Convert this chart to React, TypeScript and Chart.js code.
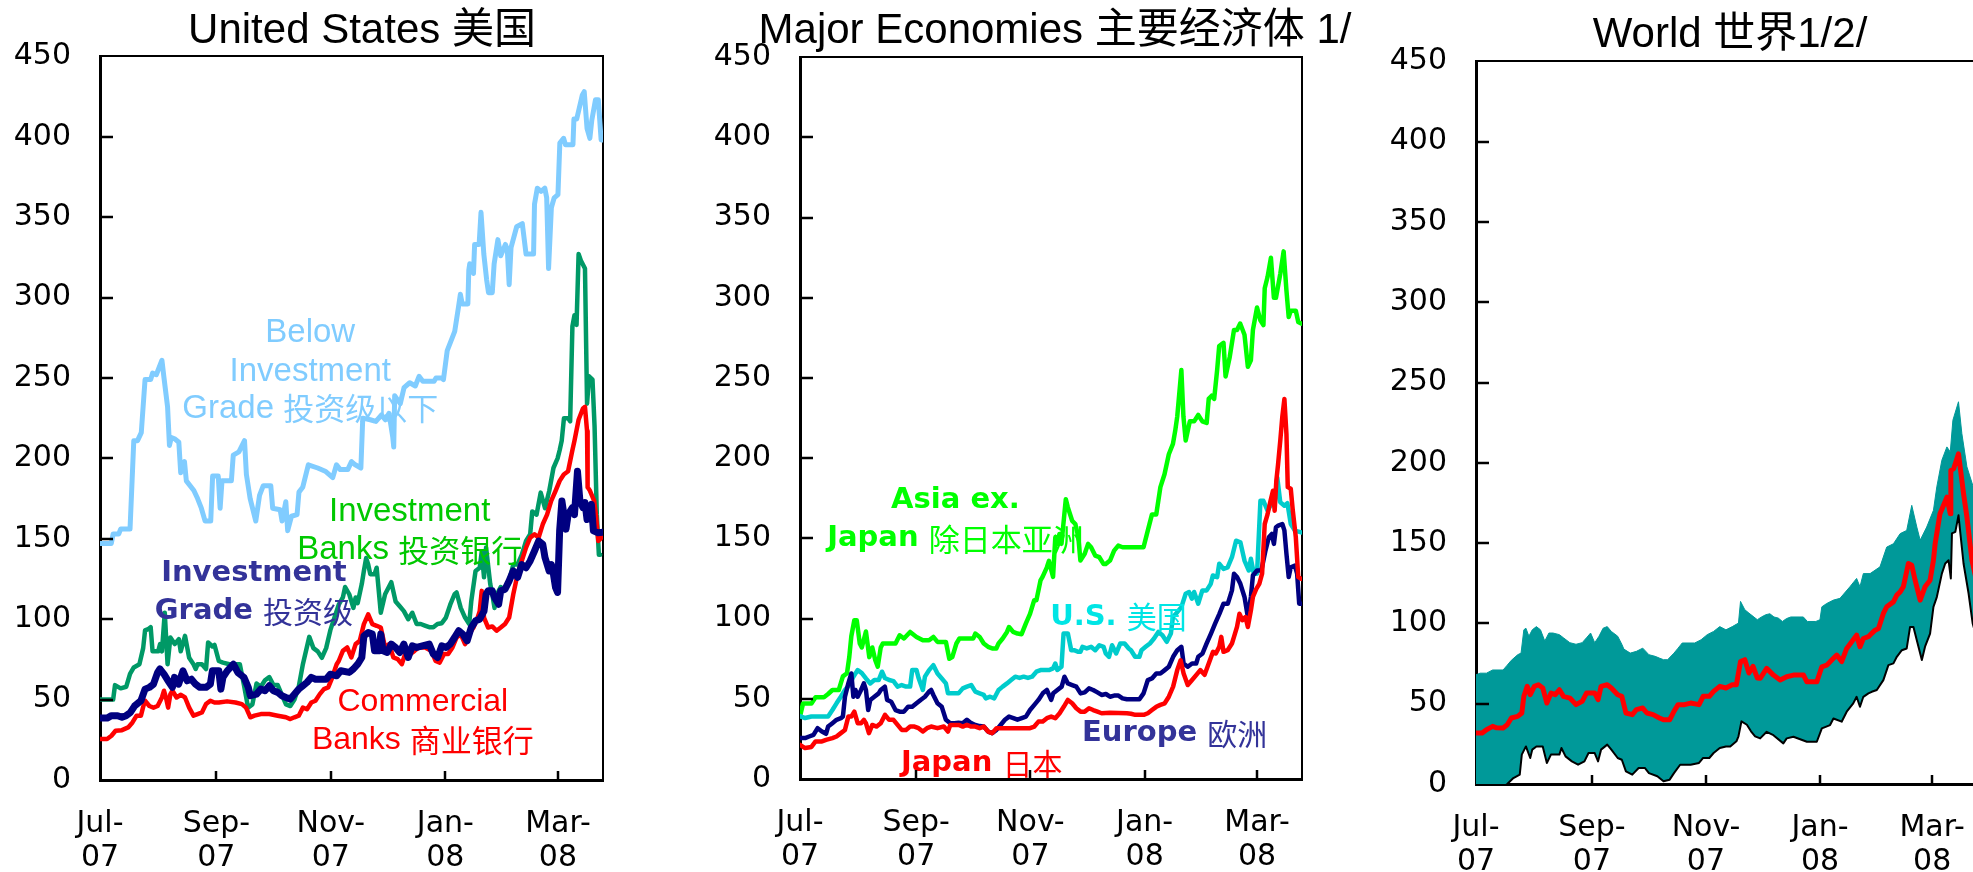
import React, { useEffect, useRef } from "react";
import { Chart, registerables } from "chart.js";

Chart.register(...registerables);

type Pt = [number, number];

// ---------- axes ----------
// x values are days since 1 Jul 2007
const xTickDays = [0, 62, 123, 184, 244];
const xTickLabels = [["Jul-", "07"], ["Sep-", "07"], ["Nov-", "07"], ["Jan-", "08"], ["Mar-", "08"]];
const xMax = 268;
const yMin = 0;
const yMax = 450;
const yStep = 50;

const titles = ["United States 美国", "Major Economies 主要经济体 1/", "World 世界1/2/"];

// ---------- United States ----------
const usBelowIG: Pt[] = [
  [0, 147], [6, 147], [7, 153], [10, 153], [11, 156], [16, 156], [18, 211], [20, 211], [22, 216], [24, 249], [27, 249],
  [28, 253], [30, 252], [33, 261], [34, 251], [36, 232], [37, 208], [38, 213], [40, 212], [42, 210], [43, 191], [45, 198],
  [46, 186], [50, 180], [52, 175], [54, 169], [56, 161], [59, 161], [60, 189], [63, 189], [64, 169], [65, 186], [70, 186],
  [71, 202], [74, 204], [77, 211], [78, 190], [80, 175], [83, 161], [85, 177], [87, 183], [91, 183], [92, 169], [96, 168],
  [97, 161], [99, 173], [100, 155], [102, 164], [105, 165], [106, 179], [108, 182], [111, 196], [116, 194], [120, 192],
  [124, 188], [126, 196], [128, 193], [132, 193], [134, 198], [136, 196], [139, 194], [140, 225], [144, 224], [147, 223],
  [150, 227], [152, 224], [154, 228], [156, 213], [156.5, 207], [157, 239], [160, 234], [162, 244], [165, 247], [168, 245],
  [170, 251], [172, 248], [178, 248], [179, 250], [182, 250], [183, 249], [185, 267], [189, 279], [191, 294], [192, 302],
  [193, 296], [196, 296], [196.5, 317], [197, 321], [199, 315], [199.6, 333], [202, 333], [203, 353], [204.5, 327],
  [206, 311], [207, 303], [209, 303], [210, 321], [212, 336], [213.5, 326], [216, 333], [217, 330], [218, 308], [219, 331],
  [222, 344], [225, 346], [227, 327], [231, 327], [231.5, 358], [233, 368], [235, 366], [237, 368], [238, 362], [239, 318],
  [240.5, 356], [242, 362], [244, 364], [245, 396], [247, 399], [248, 395], [252, 395], [252.5, 411], [254, 411],
  [257, 426], [258, 428], [259.5, 405], [261, 399], [262, 410], [264, 423], [265.5, 423], [267, 398], [268, 398],
];

const usInvBanks: Pt[] = [
  [0, 50], [4, 50], [7, 50], [8, 59], [11, 57], [14, 58], [16, 66], [18, 70], [21, 72], [23, 82], [24, 93], [26, 94],
  [27, 95], [28, 80], [31, 80], [32, 84.5], [33, 80], [34.5, 104], [36, 72], [37.5, 88.6], [39.8, 84.5], [42, 87.6],
  [43, 80], [45.3, 89.6], [47.5, 76], [49.8, 72], [51, 69], [52, 72], [54.3, 72], [56.5, 69], [57.6, 85.5], [59.9, 83],
  [61, 84], [63.3, 74], [65.5, 73], [68.9, 72], [71, 72], [74.5, 72], [76.7, 59], [78.9, 45], [81.2, 47], [83.4, 60],
  [85.7, 58], [87.9, 62], [90.2, 64], [92.4, 59], [94.7, 59], [96.9, 53], [99.1, 47], [101.4, 46], [103.6, 50],
  [105.9, 58], [108.1, 72], [111.5, 89], [113.7, 82], [116, 80], [118.2, 76], [120.5, 82], [122.7, 93], [124.9, 101],
  [127.2, 109], [129.4, 113.5], [130.6, 120], [132.8, 115.5], [135, 107], [136.2, 113.5], [137.3, 110], [139.5, 122],
  [140.6, 130], [141.8, 138], [142.9, 134], [144, 128], [146.3, 128], [147.4, 132], [149.6, 104], [151.9, 115.5],
  [155.2, 123], [157.5, 111], [159.7, 108], [161.9, 105], [164.2, 100], [166.4, 104], [168.7, 97], [170.9, 97],
  [173.1, 96], [175.4, 95], [177.6, 95], [179.8, 97], [182.1, 97.5], [184.3, 101], [186.6, 109], [188.9, 115.5],
  [190, 116.6], [192.2, 107], [194.5, 101], [196.7, 97], [197.8, 111], [200.1, 130], [202.3, 132], [203.4, 142],
  [204.6, 126], [205.7, 144.5], [207.9, 122], [209, 115.5], [210.2, 107], [211.3, 115], [213.5, 120], [215.8, 118],
  [218, 124], [220.2, 134], [222.5, 134], [224.7, 140], [227, 148.6], [229.2, 152.8], [230.3, 167], [232.6, 165],
  [234.8, 178.7], [237.1, 169], [239.4, 180], [241.6, 194], [243.8, 200], [244.9, 205], [246, 211], [247.2, 225],
  [249.4, 225], [250.5, 223], [251.7, 282], [252.8, 289], [253.9, 283], [255, 327], [256.2, 323], [258.4, 318],
  [259.5, 234], [260.6, 251], [262.4, 249], [263.5, 220], [264.7, 165], [265.8, 140], [266.5, 140],
];

const usCommBanks: Pt[] = [
  [0, 25.5], [3.8, 25.5], [6.1, 27.5], [8.3, 30.6], [11.7, 31], [15, 32.7], [17.3, 35.8], [19.5, 40], [21.8, 40],
  [22.9, 45], [24, 49.3], [26.3, 46], [28.5, 45], [30.7, 46], [33, 51.3], [34.1, 55.5], [35.2, 51], [36.3, 45],
  [37.5, 53.4], [38.6, 55.5], [40.8, 51.3], [43.1, 53], [45.3, 51.3], [47.5, 45], [49.8, 40], [52, 41], [54.3, 42],
  [56.5, 47.2], [58.8, 49.3], [61, 48.2], [63.3, 48.2], [67.7, 48.9], [72.2, 48.2], [75.6, 47.2], [77.8, 45], [80.1, 39],
  [82.3, 40], [85.7, 41], [90.2, 41], [94.7, 40], [99.1, 39], [101.4, 37.9], [103.6, 39], [105.9, 40], [108.1, 45],
  [110.3, 44], [112.6, 48.2], [114.8, 49.3], [117.1, 53.4], [119.3, 56.5], [121.6, 57.6], [123.8, 63.8], [124.9, 68],
  [126.1, 72], [127.2, 74], [129.4, 80.3], [131.7, 82.4], [133.9, 76.2], [136.2, 84.5], [138.4, 86.5], [140.6, 96.9],
  [142.9, 103], [145.1, 96.9], [147.4, 95.9], [149.6, 94.8], [151.9, 82.4], [154.1, 84.5], [156.3, 76.2], [158.6, 75.2],
  [160.8, 72], [163.1, 80.3], [165.3, 78.3], [167.6, 80.3], [169.8, 82.4], [173.2, 82.4], [176.5, 80.3], [178.8, 74],
  [181, 73], [183.3, 78.3], [185.5, 78.3], [187.8, 82.4], [190, 88.6], [192.2, 90.7], [194.5, 84.5], [196.7, 90.7],
  [199, 94.8], [201.2, 101], [202.3, 105], [203.4, 117.6], [204.6, 101], [206.8, 94.8], [209, 95.5], [211.3, 92.8],
  [213.5, 94.8], [215.8, 97], [218, 101], [220.2, 115.5], [222.5, 128], [224.7, 136.2], [227, 144.5], [229.2, 150.7],
  [231.5, 152.8], [233.7, 150.7], [235.9, 159], [238.2, 165], [240.4, 173.5], [242.7, 179.7], [244.9, 186], [247.1, 190],
  [249.4, 192], [251.6, 204.6], [252.8, 211], [255, 224], [257.3, 231], [258.4, 232], [259.5, 217], [259.8, 182],
  [261, 180], [263.3, 173.5], [264.4, 163], [265.5, 148.6], [266.7, 150], [268, 152],
];

const usInvGrade: Pt[] = [
  [0, 38.5], [3.8, 38.5], [6.1, 40], [9.4, 40], [11.7, 39], [13.9, 40], [16.2, 42], [18.4, 46], [21.8, 49.3], [24, 56.5],
  [26.3, 57.6], [28.5, 59.6], [30.7, 66.9], [31.9, 69], [34.1, 65.8], [36.3, 61.7], [38.6, 57.6], [39.7, 63.8],
  [41.9, 59.6], [44.2, 67.9], [46.4, 61.7], [48.7, 62.7], [50.9, 59.6], [53.2, 57.6], [56.5, 57.6], [58.8, 59.6],
  [59.9, 67.9], [63.3, 67.9], [64.4, 56.5], [65.5, 63.8], [67.8, 67.9], [71.1, 72], [73.4, 66.9], [76.7, 63.8],
  [79, 57.6], [80.1, 52.4], [83.4, 53.4], [85.7, 56.5], [87.9, 55.5], [90.2, 58.6], [92.4, 55.5], [94.7, 54.5],
  [96.9, 52.4], [99.1, 51.3], [101.4, 50.3], [103.6, 53.4], [105.9, 56.5], [108.1, 58.6], [110.3, 60.7], [112.6, 63.8],
  [114.8, 62.7], [120.5, 62.7], [122.7, 65.8], [126.1, 64.8], [128.3, 67.9], [132.8, 66.9], [135, 69], [137.3, 72],
  [139.5, 76.2], [140.6, 89.6], [142.9, 91.7], [145.1, 90.7], [146.3, 80.3], [148.5, 80.3], [149.6, 90.7], [150.8, 80.3],
  [153, 79.3], [155.2, 84.5], [157.5, 82.4], [159.7, 79.3], [161.9, 84.5], [164.2, 76.2], [166.4, 83.4], [168.7, 82.4],
  [175.4, 84.5], [177.6, 78.3], [179.9, 76.2], [182.1, 83.4], [184.4, 82.4], [186.6, 84.5], [188.9, 88.6], [191.1, 92.8],
  [193.3, 90.7], [195.6, 86.5], [197.8, 94.8], [200.1, 99], [202.3, 100], [204.6, 105], [205.7, 115.5], [206.8, 117.6],
  [209, 117.6], [210.2, 113.5], [212.4, 109.3], [213.5, 117.6], [215.8, 118.6], [218, 123.8], [220.2, 130], [222.5, 126],
  [224.7, 134], [227, 132], [229.2, 136.2], [231.5, 142.4], [233.7, 148.6], [235.9, 146.6], [237.1, 138.3], [239.3, 130],
  [240.5, 134], [241.6, 128], [242.7, 119.7], [243.8, 116.6], [244.9, 154.9], [246.1, 173.5], [248.3, 156], [249.4, 165],
  [251.7, 169.4], [252.8, 165], [254.4, 192], [255.7, 173.5], [257.3, 169.4], [258.4, 172.5], [259.5, 162], [261.8, 171.4],
  [262.9, 154.9], [265.1, 153.8], [268, 154],
];

// ---------- Major Economies ----------
const meAsiaExJapan: Pt[] = [
  [0, 39], [1.6, 47], [6.1, 47], [8.3, 51], [12.8, 51], [15, 53], [17.3, 55.5], [20.7, 55.5], [22.9, 64], [25.1, 66],
  [26.3, 76], [27.4, 89], [29, 99], [30.3, 99], [31.9, 84.5], [33, 82], [35.2, 92], [37, 76], [38.6, 82], [40.2, 74],
  [41.5, 70], [43.1, 82], [44.2, 84.5], [51, 84.5], [53.2, 89.6], [55.5, 87.6], [58.8, 91.7], [62.2, 88.6], [65.6, 86.5],
  [68.9, 86.5], [71.2, 88.6], [73.4, 85.5], [77.9, 85.5], [79.7, 75], [81.3, 76], [83.5, 84.5], [85.1, 87.6], [92.5, 87.6],
  [93.6, 90.7], [95.9, 88.6], [98.1, 84.5], [100.4, 82.4], [102.6, 81.4], [104.8, 81.4], [106, 84.5], [108.2, 87.6],
  [110.5, 91.7], [111.6, 94.8], [113.8, 91.7], [116.1, 90.7], [118.3, 90.3], [120.6, 97], [122.8, 103], [125, 111.4],
  [126.2, 111.4], [128.4, 123.8], [129.5, 126], [131.8, 132], [132.9, 136], [135.1, 126], [136.3, 150.7], [137.4, 146.6],
  [138.5, 152.8], [139.6, 146.6], [141.9, 174.5], [143, 169.4], [145.3, 161], [147, 159], [148.6, 150.7], [149.7, 136.2],
  [152, 140.4], [153.8, 146.6], [155.4, 144.5], [157.6, 139.3], [159.8, 138.3], [162.1, 134], [163.2, 134], [165.5, 136.2],
  [167.7, 142.4], [169.9, 145.5], [172.2, 144.5], [183.4, 144.5], [185.7, 155], [187.9, 165], [190.2, 165], [192.4, 182],
  [194.6, 190], [196.9, 202.5], [199.1, 209], [200.3, 217], [201.4, 226], [203.6, 255], [204.7, 226], [205.9, 211],
  [208.1, 223], [210.4, 223], [212.6, 227], [214.8, 223], [217.1, 222], [218.2, 237], [219.8, 239], [221.1, 237],
  [222.7, 255], [223.8, 270], [226.1, 272], [227.2, 251], [229.4, 263], [231.7, 280], [233.3, 280], [235, 284],
  [237.3, 277], [239.1, 257], [240.7, 261], [241.8, 280], [244, 294], [245.8, 286], [247.4, 283], [248.1, 306],
  [249.6, 313], [251.4, 325], [253, 300], [254.1, 300], [256.4, 315], [258.2, 329], [259.7, 304.5], [260.9, 288],
  [262, 292], [264.7, 292], [266, 285], [267.6, 284],
];

const meUS: Pt[] = [
  [0, 39.3], [2.7, 38], [6.1, 39], [10.6, 39], [15, 39], [17.3, 43], [19.5, 47.2], [21.8, 51.3], [24, 55.5], [26.3, 58.6],
  [28.5, 63.8], [30.8, 67.9], [33, 66], [35.2, 62.7], [37.5, 59.6], [39.7, 61.7], [42, 61.7], [43.8, 66.9], [45.3, 63],
  [47.6, 61.7], [49.9, 61], [52.1, 57.6], [54.3, 58.6], [56.6, 57.6], [58.8, 57.6], [59.9, 67.9], [62.2, 67.9], [63.3, 63],
  [65.6, 55.5], [66.7, 63.8], [68.9, 67.9], [71.2, 71], [73.4, 65.8], [75.7, 62.7], [77.9, 59.6], [79, 53.4], [81.3, 53.4],
  [84.6, 53.4], [86.9, 56.5], [89.1, 57.6], [91.4, 58.6], [93.6, 54.5], [95.9, 53.4], [98.1, 52.4], [99.2, 50.3],
  [101.5, 51.3], [103.7, 50.3], [106, 55.5], [108.2, 57.6], [110.5, 59.6], [112.7, 61.7], [114.9, 63.8], [117.2, 63],
  [119.4, 63.8], [121.7, 63], [123.9, 63.8], [126.2, 66.9], [128.4, 67.9], [132.9, 67.9], [135.1, 69], [136.3, 72],
  [137.4, 68], [139.6, 70], [140.7, 90.7], [143, 90.7], [144.8, 80.3], [146.3, 80.3], [148.6, 79.3], [149.7, 79.3],
  [150.8, 82.4], [153.1, 81.4], [155.4, 82.4], [157.6, 80.3], [159.8, 83.4], [162.1, 82.4], [163.2, 78.3], [165, 76.2],
  [166.6, 83.4], [168.8, 78.3], [171, 84.5], [173.3, 84.5], [175.5, 81.4], [176.7, 80.3], [178.9, 76.2], [181.2, 76.2],
  [182.3, 80.3], [184.5, 82.4], [186.8, 84.5], [189, 87.6], [191.3, 91.7], [193.5, 89.6], [195.8, 85.5], [198, 90.7],
  [199.1, 101], [201.4, 104], [203.6, 107.2], [205.9, 115.5], [207.7, 116.6], [209.2, 112.4], [210.4, 116.6],
  [212.6, 109.3], [214.8, 117.6], [217.1, 117.6], [219.3, 121.7], [220.4, 126.9], [222.7, 125.9], [223.8, 134.2],
  [226.1, 131], [228.3, 132], [230.6, 138.3], [232.8, 148.6], [235.1, 147.6], [237.3, 136.2], [239.6, 130], [240.7, 137.3],
  [242.3, 128], [244, 128], [245.8, 173.5], [247.4, 173.5], [249.6, 167.3], [251.9, 172], [253.5, 172], [254.8, 188],
  [256.4, 172.5], [258.6, 170.4], [260.2, 172], [262, 159], [264.2, 154.9], [267.6, 153.8],
];

const meEurope: Pt[] = [
  [0, 25.5], [2.7, 25.5], [4.9, 26.5], [7.2, 27.5], [9.4, 31.7], [11.7, 29.6], [13.9, 28.2], [15, 32.7], [17.3, 34.8],
  [19.5, 36.9], [21.8, 37.9], [22.9, 39], [24, 51.3], [25.8, 59.6], [27.4, 65.8], [28.5, 51.3], [29.6, 55.5], [30.8, 51.3],
  [32.6, 55.5], [34.1, 59.6], [35.2, 55.5], [36.4, 43], [37.5, 49.3], [39.7, 51.3], [42, 53.4], [43.1, 55.5], [45.3, 57.6],
  [46.5, 49.3], [48.7, 48.2], [51, 43], [53.2, 42], [55.5, 42], [57.7, 45], [59.9, 45], [62.2, 47.2], [64.4, 49.3],
  [66.7, 51.3], [68.9, 54.5], [70, 55.5], [71.2, 52.4], [73.4, 47.2], [75.7, 45], [77.9, 36.9], [80.2, 34.8], [82.4, 34.8],
  [84.6, 35], [86.9, 34.8], [89.1, 36.9], [91.4, 34.8], [93.6, 33.7], [95.9, 33], [98.1, 32.7], [100.4, 29.6], [102.6, 28.6],
  [104.9, 30.6], [107.1, 33.7], [109.4, 36.9], [111.6, 38.9], [113.9, 38], [116.1, 37], [118.4, 38], [120.6, 38.9],
  [122.8, 43], [125.1, 46.2], [127.3, 49.3], [129.6, 53.4], [131.8, 55.5], [134.1, 49.3], [135.2, 53.4], [137.4, 55.5],
  [139.7, 57.6], [141.2, 63.8], [143, 59.6], [145.3, 58.6], [147.5, 57.6], [149.8, 53.4], [152, 54], [154.3, 56.5],
  [156.5, 55.5], [158.8, 54], [161, 52.4], [163.3, 53], [165.5, 51.3], [167.7, 52], [170, 52], [172.2, 50.3], [174.5, 49.7],
  [181.2, 49.7], [183.4, 53.4], [185.7, 61.7], [187.9, 62.7], [190.2, 65.8], [192.4, 65.8], [194.7, 67.9], [196.9, 70],
  [199.2, 76.2], [201.4, 80.3], [203.6, 82.4], [204.8, 72], [207, 70], [209.3, 72], [211.5, 72], [212.6, 76.2],
  [214.9, 78.3], [217.1, 84.5], [219.4, 90.7], [221.6, 96.9], [223.9, 103], [226.1, 109.3], [228.4, 109.3], [230.6, 117.6],
  [231.7, 128], [233.3, 126], [235.1, 121.7], [237.3, 113.5], [239.1, 101], [240.7, 113.5], [241.8, 126.9], [244, 130],
  [246.3, 130], [248.5, 142.4], [250.3, 150.7], [251.9, 152.8], [253, 146.6], [254.1, 157], [255.3, 158], [257.5, 159],
  [258.6, 155], [259.7, 140.4], [260.9, 125.9], [262, 132], [264.2, 133], [265.4, 128], [266.5, 109.3], [267.6, 109.3],
];

const meJapan: Pt[] = [
  [0, 21.3], [2.7, 19.3], [6.1, 20], [8.3, 23.4], [11.7, 23.4], [13.9, 24.4], [17.3, 25.5], [19.5, 26.5], [21.8, 28.6],
  [24, 30.6], [25.8, 38.9], [27.4, 38.9], [29, 42], [30.8, 34.8], [32.6, 34.8], [34.1, 36.9], [35.2, 34.8], [36.8, 28.6],
  [38.6, 33.7], [40.9, 32.7], [43.1, 34.8], [45.4, 40], [47.6, 36.9], [49.9, 36.9], [52.1, 33.7], [54.3, 30.6], [56.6, 30.6],
  [58.8, 32.7], [61.1, 32.7], [63.3, 31.7], [65.6, 29.6], [67.8, 31.7], [70, 32.7], [73.4, 31.7], [76.8, 32.7], [79, 29.6],
  [80.2, 33.7], [82.4, 33.7], [84.7, 33.7], [86.9, 32.7], [89.1, 33.7], [91.4, 32.7], [93.6, 32.7], [95.9, 31.7],
  [98.1, 32.7], [100.4, 29.6], [102.6, 28.6], [104.9, 31.7], [107.1, 31.7], [116.1, 31.7], [122.8, 31.7], [125.1, 32.7],
  [127.3, 35.8], [129.6, 35.8], [131.8, 37.9], [134.1, 38.9], [136.3, 37.9], [138.6, 41], [140.8, 45], [143, 49.3],
  [145.3, 47.2], [147.5, 44.1], [149.8, 42], [152, 42], [154.3, 44.1], [156.5, 43], [158.8, 42], [161, 41], [165.5, 41.3],
  [174.5, 41], [176.7, 40.7], [179, 40], [183.5, 40], [185.7, 41], [187.9, 43], [190.2, 45], [192.4, 46.2], [194.7, 47.2],
  [196.9, 51.3], [199.2, 57.6], [201.4, 67.9], [203.2, 74], [204.8, 65.8], [207, 58.6], [209.3, 61.7], [211.5, 64.8],
  [213.7, 67.9], [216, 65], [218.2, 72], [220.5, 79.3], [222, 78.3], [223.8, 82.4], [224.9, 88.6], [226.1, 79.3],
  [228.3, 80.3], [230.6, 84.5], [231.7, 88.6], [233.3, 94.8], [234.6, 103], [236.2, 99], [237.8, 101], [239.1, 94.8],
  [240.7, 105], [241.8, 113.5], [243.6, 118.6], [245.2, 121.7], [246.7, 128], [248.1, 159], [249.6, 165], [251.2, 173.5],
  [252.5, 179.7], [253.4, 167.3], [254.3, 186], [255.2, 196], [256.4, 211], [257.5, 226], [258.6, 237], [259.7, 215],
  [260.4, 182], [262, 181], [263.1, 167.3], [264.7, 150.7], [266, 125.9], [267.6, 124.8],
];

// ---------- World ----------
const worldUpper: Pt[] = [
  [0, 68], [2.2, 69], [5.6, 69], [8.9, 71], [14.5, 71], [16.7, 74], [18.9, 77], [22.3, 80.5], [24.1, 81.5], [25.6, 96],
  [26.7, 97], [28.3, 92], [30.1, 96], [32.3, 98], [34.5, 96], [36.8, 89], [39, 94], [41.2, 94], [44.6, 93], [46.8, 91],
  [50.2, 88], [53.5, 87], [56.8, 88], [59.1, 91], [61.3, 94], [63.5, 88], [65.8, 92], [68, 97], [70.2, 98], [72.4, 95],
  [75.8, 92], [78, 87], [79.1, 84], [82.5, 81.5], [85.8, 82.6], [89.2, 84.6], [92.5, 80.5], [95.8, 79.5], [98.1, 78.4],
  [100.3, 77.4], [102.5, 77.4], [105.9, 81.5], [108.1, 84.6], [110.3, 87.8], [117, 87.8], [120.4, 89.8], [123.7, 93],
  [127.1, 95], [130.4, 98], [133.7, 96], [137.1, 98], [140.4, 100.2], [141.5, 113.7], [143.8, 108.5], [146, 106.4],
  [148.2, 104.4], [150.5, 102.3], [152.7, 104], [155, 105.4], [157.2, 106], [159.4, 104], [161.7, 103.3], [163.9, 101.2],
  [166.1, 103], [168.4, 104], [172.8, 104], [175.1, 104], [177.3, 101.2], [181.8, 101.2], [184, 102.3], [185, 110.3],
  [187.6, 112.4], [191.2, 114.5], [194.7, 115.6], [200, 122.8], [203.6, 128], [205.4, 122.8], [207.2, 131], [210.8, 131],
  [216.1, 135.2], [219.7, 147.5], [223.3, 149.6], [226.9, 155.9], [230.4, 157.9], [233.1, 173.5], [235.8, 160],
  [237.6, 151.8], [241.1, 160], [244.7, 170.4], [246.5, 185], [249.2, 201.6], [251.9, 209.9], [253.7, 206.8],
  [255.1, 226.5], [258.1, 238], [259.9, 218.2], [262.6, 197.5], [266, 185], [268, 180],
];

const worldMedian: Pt[] = [
  [0, 31.7], [3.3, 31.7], [5.6, 33.8], [8.9, 35.9], [11, 35], [14.5, 34.9], [16.7, 36.9], [18.9, 41.1], [22.3, 42.1],
  [24.5, 44.2], [25.6, 54.6], [27.4, 60.8], [29, 55.6], [31.2, 60.8], [33.4, 61.8], [35.7, 59.8], [37.9, 50.4], [40.1, 56.6],
  [42.4, 55.6], [44.6, 58.7], [46.8, 54.6], [50.2, 53.5], [53.5, 49.4], [56.8, 51.5], [59.1, 56.6], [63.5, 56.6],
  [65.3, 52.5], [66.9, 60.8], [70.2, 61.8], [72.4, 59.8], [75.8, 55.6], [78, 54.6], [80.2, 44.2], [83.6, 43.2], [85.8, 46.3],
  [89.2, 47.3], [91.4, 44.2], [94.7, 43.2], [98.1, 41.1], [100.3, 40], [103.6, 40], [105.9, 45.2], [108.1, 49.4],
  [111.5, 49.4], [114.8, 50.4], [119.3, 49.4], [121.5, 54.6], [124.8, 54.6], [127.1, 57.7], [130.4, 60.8], [133.7, 59.8],
  [137.1, 61.8], [139.3, 61.8], [141.5, 76.3], [143.8, 77.4], [146, 69.1], [148.2, 73.2], [150.5, 66], [152, 65.8],
  [155.5, 72], [159.1, 67.8], [162.7, 64.7], [166.2, 66.8], [169.8, 67.8], [175.2, 67.8], [177, 63.6], [182.3, 63.6],
  [183.2, 66.8], [185, 73], [187.6, 74], [190.3, 77.2], [193, 80.3], [195.6, 76.2], [198.3, 84.4], [201, 88.6],
  [203.6, 92.7], [205.4, 85.5], [207.2, 90.6], [209.9, 91.7], [211.7, 93.8], [213.5, 95.8], [215.3, 96.8], [217.9, 106.2],
  [219.7, 110.3], [223.3, 113.4], [225.1, 117.6], [226.9, 119.6], [228.6, 122.8], [231.3, 137.3], [233.1, 136.2],
  [234.9, 126.9], [237.6, 114.5], [240.2, 122.8], [242.9, 126.9], [244.7, 139.3], [245.6, 149.6], [248.2, 168.3],
  [251.9, 178.6], [253.7, 168.3], [254, 195.3], [255.5, 196.3], [258.1, 205.6], [260.8, 180.8], [262.6, 166.3],
  [265.3, 139.3], [268, 125],
];

const worldLower: Pt[] = [
  [0, -12], [8, -8], [16.7, 0], [20, 3.7], [23.4, 5.8], [24.5, 18.3], [26.7, 23.4], [29, 16.2], [30.1, 21.4], [32.3, 23.4],
  [35.7, 23.4], [37.9, 13.1], [40.1, 18.3], [44.6, 18.3], [45.7, 22.4], [47.9, 17.2], [51.3, 14.1], [54.6, 12], [58, 14.1],
  [60.2, 19.3], [63.5, 19.3], [65.3, 14.1], [66.9, 21.4], [70.2, 24.5], [72.4, 21.4], [75.8, 16.2], [78, 15.1], [80.2, 7.9],
  [83.6, 5.8], [87, 10], [90.3, 10], [92.5, 6.8], [97, 4.8], [100.3, 1.7], [103.6, 2.7], [105.9, 6.8], [109.2, 12],
  [114.8, 12], [119.3, 13.1], [121.5, 16.2], [124.8, 16.2], [127.1, 19.3], [130.4, 22.4], [133.7, 23.4], [136, 23.4],
  [139.3, 26.6], [140.4, 29.7], [142, 39], [144.9, 36.9], [147.1, 32.8], [149.3, 29.7], [152, 28.4], [155.5, 32.5],
  [159.1, 30.4], [164.4, 25.3], [166.2, 28.4], [169.8, 29.4], [177, 26.3], [182.3, 26.3], [185, 34.6], [189.4, 36.7],
  [191.2, 40.8], [195.6, 38.8], [198.3, 45], [201.8, 50.2], [203.6, 54.3], [205.4, 48.1], [207.2, 54.3], [209.9, 56.4],
  [211.7, 57.4], [214.4, 58.5], [217.9, 64.7], [220.6, 74], [223.3, 75.1], [225.1, 79.2], [227.8, 83.3], [230.4, 84.4],
  [232.2, 97.8], [234, 97.8], [235.8, 89.5], [238.5, 77.2], [240.2, 85.5], [242.9, 93.7], [244.7, 110.3], [246.5, 116.4],
  [249.2, 131], [251, 137.3], [252.8, 139.3], [254, 128], [254.6, 156], [256.4, 157], [258.1, 167.3], [260.8, 137.3],
  [263.5, 118.6], [265.7, 99.9], [268, 90],
];

// ---------- in-chart labels ----------
type Note = { lines: string[]; x: number; y: number[]; color: string; bold: boolean; size: number; cjkSize: number };

const usNotes: Note[] = [
  { lines: ["Below", "Investment", "Grade 投资级以下"], x: 112, y: [278, 254, 231], color: "#80CCFF", bold: false, size: 33, cjkSize: 31 },
  { lines: ["Investment", "Banks 投资银行"], x: 165, y: [167, 143], color: "#00C800", bold: false, size: 33, cjkSize: 31 },
  { lines: ["Investment", "Grade 投资级"], x: 82, y: [128.5, 104.5], color: "#333399", bold: true, size: 29, cjkSize: 30 },
  { lines: ["Commercial", "Banks 商业银行"], x: 172, y: [48.7, 24.9], color: "#FF0000", bold: false, size: 32, cjkSize: 31 },
];

const meNotes: Note[] = [
  { lines: ["Asia ex.", "Japan 除日本亚洲"], x: 83, y: [173.5, 149.7], color: "#00FF00", bold: true, size: 29, cjkSize: 31 },
  { lines: ["U.S. 美国"], x: 170, y: [101], color: "#00E5E5", bold: true, size: 29, cjkSize: 30 },
  { lines: ["Europe 欧洲"], x: 200, y: [28.6], color: "#333399", bold: true, size: 29, cjkSize: 30 },
  { lines: ["Japan 日本"], x: 97, y: [9.9], color: "#FF0000", bold: true, size: 29, cjkSize: 30 },
];

// ---------- plugins ----------
const CJK_RE = /[\u2E80-\u9FFF\uF900-\uFAFF\uFF00-\uFFEF]/;

const notesPlugin = {
  id: "notes",
  afterDatasetsDraw(chart: any, _args: any, opts: any) {
    const items: Note[] = (opts && opts.items) || [];
    const { ctx, scales } = chart;
    ctx.save();
    ctx.textBaseline = "middle";
    ctx.textAlign = "left";
    for (const n of items) {
      const cx = scales.x.getPixelForValue(n.x);
      n.lines.forEach((line, i) => {
        const cy = scales.y.getPixelForValue(n.y[i]);
        const idx = line.search(CJK_RE);
        const latin = idx < 0 ? line : line.slice(0, idx);
        const cjk = idx < 0 ? "" : line.slice(idx);
        const latinFont = n.bold
          ? `bold ${n.size}px 'DejaVu Sans', sans-serif`
          : `${n.size}px 'Liberation Sans', 'DejaVu Sans', sans-serif`;
        const cjkFont = `${n.cjkSize}px 'Noto Sans CJK SC', sans-serif`;
        ctx.font = latinFont;
        const w1 = ctx.measureText(latin).width;
        ctx.font = cjkFont;
        const w2 = cjk ? ctx.measureText(cjk).width : 0;
        const x0 = cx - (w1 + w2) / 2;
        ctx.fillStyle = n.color;
        ctx.font = latinFont;
        ctx.fillText(latin, x0, cy);
        if (cjk) {
          ctx.font = cjkFont;
          ctx.fillText(cjk, x0 + w1, cy);
        }
      });
    }
    ctx.restore();
  },
};

const innerTicksPlugin = {
  id: "innerTicks",
  afterDatasetsDraw(chart: any) {
    const { ctx, chartArea: a, scales } = chart;
    ctx.save();
    ctx.strokeStyle = "#000";
    ctx.lineWidth = 2.5;
    ctx.beginPath();
    for (const t of scales.y.ticks) {
      if (t.value <= yMin || t.value >= yMax) continue;
      const py = Math.round(scales.y.getPixelForValue(t.value));
      ctx.moveTo(a.left, py);
      ctx.lineTo(a.left + 13, py);
    }
    for (const t of scales.x.ticks) {
      if (t.value <= 0) continue;
      const px = Math.round(scales.x.getPixelForValue(t.value));
      ctx.moveTo(px, a.bottom);
      ctx.lineTo(px, a.bottom - 9);
    }
    ctx.stroke();
    ctx.restore();
  },
};

// ---------- chart building ----------
const TICK_FAMILY = "'DejaVu Sans', 'Noto Sans CJK SC', sans-serif";
const TITLE_FAMILY = "'Liberation Sans', 'Noto Sans CJK SC', sans-serif";

const toXY = (arr: Pt[]) => arr.map(([x, y]) => ({ x, y }));

const lineDs = (label: string, arr: Pt[], color: string, width: number) => ({
  label,
  data: toXY(arr),
  borderColor: color,
  backgroundColor: color,
  borderWidth: width,
  pointRadius: 0,
  pointHoverRadius: 0,
  tension: 0,
  fill: false,
  borderJoinStyle: "round",
  borderCapStyle: "round",
});

type PanelSpec = {
  left: number;
  width: number;
  title: string;
  titlePadTop: number;
  titlePadBottom: number;
  yAxisWidth: number;
  rightWidth: number;
  xAxisHeight: number;
  datasets: any[];
  notes: Note[];
};

const panels: PanelSpec[] = [
  {
    left: 0,
    width: 724,
    title: titles[0],
    titlePadTop: 7,
    titlePadBottom: 1,
    yAxisWidth: 100,
    rightWidth: 121,
    xAxisHeight: 92,
    datasets: [
      lineDs("Investment Grade 投资级", usInvGrade, "#000080", 7),
      lineDs("Commercial Banks 商业银行", usCommBanks, "#FF0000", 4.5),
      lineDs("Investment Banks 投资银行", usInvBanks, "#009966", 4.5),
      lineDs("Below Investment Grade 投资级以下", usBelowIG, "#80CCFF", 5),
    ],
    notes: usNotes,
  },
  {
    left: 700,
    width: 710,
    title: titles[1],
    titlePadTop: 7,
    titlePadBottom: 2,
    yAxisWidth: 100,
    rightWidth: 108,
    xAxisHeight: 93,
    datasets: [
      lineDs("Japan 日本", meJapan, "#FF0000", 4.5),
      lineDs("Europe 欧洲", meEurope, "#000080", 4.5),
      lineDs("U.S. 美国", meUS, "#00CCCC", 4.5),
      lineDs("Asia ex. Japan 除日本亚洲", meAsiaExJapan, "#00FF00", 4.5),
    ],
    notes: meNotes,
  },
  {
    left: 1376,
    width: 708,
    title: titles[2],
    titlePadTop: 11,
    titlePadBottom: 2,
    yAxisWidth: 100,
    rightWidth: 107,
    xAxisHeight: 88,
    datasets: [
      lineDs("Median", worldMedian, "#FF0000", 5),
      lineDs("Lower", worldLower, "#000000", 2),
      { ...lineDs("Upper", worldUpper, "#009999", 1), fill: 1, backgroundColor: "#009999" },
    ],
    notes: [],
  },
];

const HEIGHT = 872;

function Panel({ spec }: { spec: PanelSpec }) {
  const ref = useRef<HTMLCanvasElement | null>(null);
  useEffect(() => {
    if (!ref.current) return;
    const labelFor = (v: number) => {
      const i = xTickDays.indexOf(v);
      return i >= 0 ? xTickLabels[i] : "";
    };
    const chart = new Chart(ref.current, {
      type: "line",
      data: { datasets: spec.datasets },
      plugins: [notesPlugin, innerTicksPlugin],
      options: {
        animation: false,
        responsive: false,
        maintainAspectRatio: false,
        events: [],
        layout: { padding: 0 },
        plugins: {
          legend: { display: false },
          tooltip: { enabled: false },
          title: {
            display: true,
            text: spec.title,
            color: "#000",
            font: { family: TITLE_FAMILY, size: 42, weight: "normal", lineHeight: 1.15 },
            padding: { top: spec.titlePadTop, bottom: spec.titlePadBottom },
          },
          notes: { items: spec.notes },
          filler: { propagate: false },
        } as any,
        scales: {
          x: {
            type: "linear",
            position: "bottom",
            min: 0,
            max: xMax,
            afterBuildTicks: (s: any) => {
              s.ticks = xTickDays.map((v) => ({ value: v }));
            },
            afterFit: (s: any) => {
              s.height = spec.xAxisHeight;
            },
            ticks: {
              autoSkip: false,
              maxRotation: 0,
              minRotation: 0,
              padding: 27,
              color: "#000",
              font: { family: TICK_FAMILY, size: 30, lineHeight: 1.13 },
              callback: (v: any) => labelFor(Number(v)),
            },
            grid: { display: false, drawTicks: false },
            border: { display: true, color: "#000", width: 3 },
          },
          x2: {
            type: "linear",
            position: "top",
            min: 0,
            max: xMax,
            display: true,
            afterFit: (s: any) => {
              s.height = 0;
            },
            ticks: { display: false },
            grid: { display: false, drawTicks: false },
            border: { display: true, color: "#000", width: 2 },
          },
          y: {
            type: "linear",
            position: "left",
            min: yMin,
            max: yMax,
            afterFit: (s: any) => {
              s.width = spec.yAxisWidth;
            },
            ticks: {
              stepSize: yStep,
              padding: 29,
              color: "#000",
              font: { family: TICK_FAMILY, size: 30 },
            },
            grid: { display: false, drawTicks: false },
            border: { display: true, color: "#000", width: 3 },
          },
          y2: {
            type: "linear",
            position: "right",
            min: yMin,
            max: yMax,
            display: true,
            afterFit: (s: any) => {
              s.width = spec.rightWidth;
            },
            ticks: { display: false },
            grid: { display: false, drawTicks: false },
            border: { display: true, color: "#000", width: 2 },
          },
        } as any,
      },
    } as any);
    return () => chart.destroy();
  }, [spec]);
  return (
    <canvas
      ref={ref}
      width={spec.width}
      height={HEIGHT}
      style={{ position: "absolute", left: spec.left, top: 0, width: spec.width, height: HEIGHT }}
    />
  );
}

export default function App() {
  return (
    <div
      style={{
        position: "absolute",
        left: 0,
        top: 0,
        width: 1973,
        height: HEIGHT,
        overflow: "hidden",
        background: "#ffffff",
      }}
    >
      {panels.map((p, i) => (
        <Panel key={i} spec={p} />
      ))}
    </div>
  );
}
